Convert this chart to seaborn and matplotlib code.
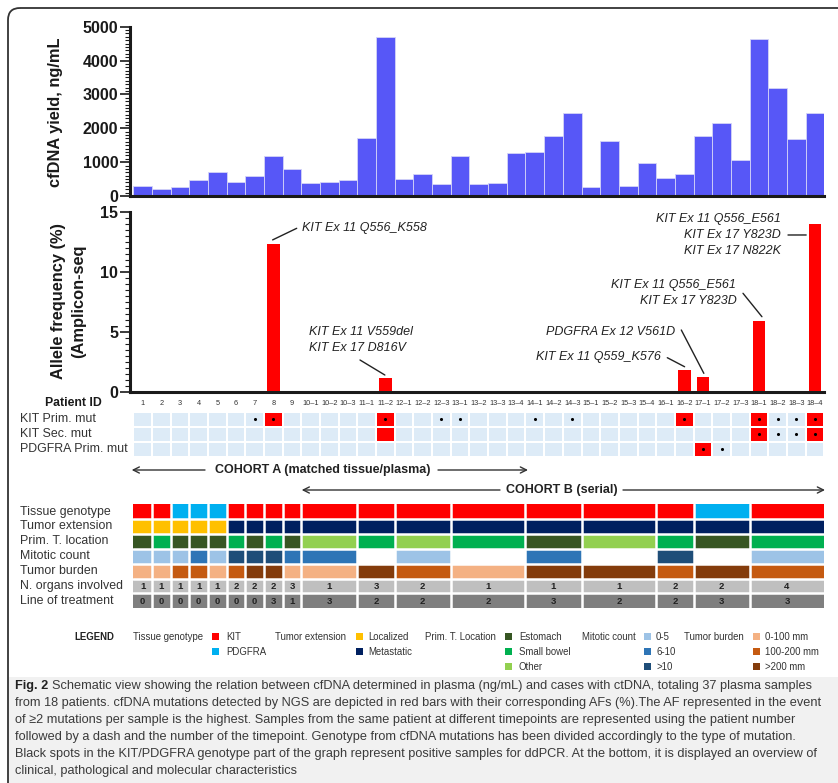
import numpy as np
import pandas as pd
import matplotlib
matplotlib.use("Agg")
import matplotlib.pyplot as plt
from matplotlib.colors import ListedColormap
from matplotlib.patches import Rectangle, FancyBboxPatch
from matplotlib.ticker import MultipleLocator
from matplotlib import font_manager
import seaborn as sns

# ---------------------------------------------------------------- data
sample_ids = ["1", "2", "3", "4", "5", "6", "7", "8", "9",
              "10–1", "10–2", "10–3", "11–1", "11–2", "12–1", "12–2", "12–3",
              "13–1", "13–2", "13–3", "13–4", "14–1", "14–2", "14–3",
              "15–1", "15–2", "15–3", "15–4", "16–1", "16–2",
              "17–1", "17–2", "17–3", "18–1", "18–2", "18–3", "18–4"]

cfdna_yield = [300, 220, 260, 460, 700, 420, 580, 1190, 810,
               380, 420, 460, 1700, 4690, 500, 650, 340,
               1190, 340, 380, 1270, 1310, 1770, 2450,
               260, 1610, 300, 960, 540, 650,
               1770, 2160, 1070, 4650, 3190, 1690, 2450]

af_samples = ["8", "11–2", "16–2", "17–1", "18–1", "18–4"]
af_values = [12.3, 1.1, 1.8, 1.25, 5.9, 14.0]

mut_rows = ["KIT Prim. mut", "KIT Sec. mut", "PDGFRA Prim. mut"]
kit_prim_ngs = ["8", "11–2", "16–2", "18–1", "18–4"]
kit_sec_ngs = ["11–2", "18–1", "18–4"]
pdgfra_prim_ngs = ["17–1"]
kit_prim_ddpcr = ["7", "8", "11–2", "12–3", "13–1", "14–1", "14–3",
                  "16–2", "18–1", "18–2", "18–3", "18–4"]
kit_sec_ddpcr = ["18–1", "18–2", "18–3", "18–4"]
pdgfra_prim_ddpcr = ["17–1", "17–2"]

samples_per_patient = [1, 1, 1, 1, 1, 1, 1, 1, 1, 3, 2, 3, 4, 3, 4, 2, 3, 4]

clin_rows = ["Tissue genotype", "Tumor extension", "Prim. T. location",
             "Mitotic count", "Tumor burden", "N. organs involved",
             "Line of treatment"]
tissue_genotype = ["KIT", "KIT", "PDGFRA", "PDGFRA", "PDGFRA", "KIT", "KIT",
                   "KIT", "KIT", "KIT", "KIT", "KIT", "KIT", "KIT", "KIT",
                   "KIT", "PDGFRA", "KIT"]
tumor_extension = ["Localized"] * 5 + ["Metastatic"] * 13
prim_location = ["Estomach", "Small bowel", "Estomach", "Estomach", "Estomach",
                 "Small bowel", "Estomach", "Small bowel", "Estomach", "Other",
                 "Small bowel", "Other", "Small bowel", "Estomach", "Other",
                 "Small bowel", "Estomach", "Small bowel"]
mitotic_count = ["0-5", "0-5", "0-5", "6-10", "0-5", ">10", ">10", ">10",
                 "6-10", "6-10", None, "0-5", None, "6-10", None, ">10",
                 None, "0-5"]
tumor_burden = ["0-100 mm", "0-100 mm", "100-200 mm", "100-200 mm", "0-100 mm",
                "100-200 mm", ">200 mm", ">200 mm", "0-100 mm", "0-100 mm",
                ">200 mm", "100-200 mm", "0-100 mm", ">200 mm", ">200 mm",
                "100-200 mm", ">200 mm", "100-200 mm"]
n_organs = [1, 1, 1, 1, 1, 2, 2, 2, 3, 1, 3, 2, 1, 1, 1, 2, 2, 4]
line_of_treatment = [0, 0, 0, 0, 0, 0, 0, 3, 1, 3, 2, 2, 2, 3, 2, 2, 3, 3]

category_colors = {
    "KIT": "#FF0000", "PDGFRA": "#00B0F0",
    "Localized": "#FFC000", "Metastatic": "#002060",
    "Estomach": "#375623", "Small bowel": "#00B050", "Other": "#92D050",
    "0-5": "#9DC3E6", "6-10": "#2E75B6", ">10": "#1F4E79",
    "0-100 mm": "#F4B183", "100-200 mm": "#C55A11", ">200 mm": "#843C0C",
    None: "#FFFFFF",
}
organs_color = "#BFBFBF"
treatment_color = "#7F7F7F"

legend_groups = [
    ("Tissue genotype", ["KIT", "PDGFRA"]),
    ("Tumor extension", ["Localized", "Metastatic"]),
    ("Prim. T. Location", ["Estomach", "Small bowel", "Other"]),
    ("Mitotic count", ["0-5", "6-10", ">10"]),
    ("Tumor burden", ["0-100 mm", "100-200 mm", ">200 mm"]),
]

annotations = [
    # text, sample, align
    ("KIT Ex 11 Q556_K558", "8", "left"),
    ("KIT Ex 11 V559del\nKIT Ex 17 D816V", "11–2", "left"),
    ("KIT Ex 11 Q556_E561\nKIT Ex 17 Y823D\nKIT Ex 17 N822K", "18–4", "right"),
    ("KIT Ex 11 Q556_E561\nKIT Ex 17 Y823D", "18–1", "right"),
    ("PDGFRA Ex 12 V561D", "17–1", "right"),
    ("KIT Ex 11 Q559_K576", "16–2", "right"),
]

caption_bold = "Fig. 2"
caption_lines = [
    "Schematic view showing the relation between cfDNA determined in plasma (ng/mL) and cases with ctDNA, totaling 37 plasma samples",
    "from 18 patients. cfDNA mutations detected by NGS are depicted in red bars with their corresponding AFs (%).The AF represented in the event",
    "of ≥2 mutations per sample is the highest. Samples from the same patient at different timepoints are represented using the patient number",
    "followed by a dash and the number of the timepoint. Genotype from cfDNA mutations has been divided accordingly to the type of mutation.",
    "Black spots in the KIT/PDGFRA genotype part of the graph represent positive samples for ddPCR. At the bottom, it is displayed an overview of",
    "clinical, pathological and molecular characteristics",
]

# ---------------------------------------------------------------- style
sns.set_theme(style="white")
plt.rcParams["font.family"] = ["Liberation Sans", "DejaVu Sans"]
INK = "#1a1a1a"


def installed(name):
    try:
        font_manager.findfont(font_manager.FontProperties(family=name),
                              fallback_to_default=False)
        return True
    except ValueError:
        return False


cap_family = next((f for f in ["Liberation Sans Narrow", "Liberation Sans"]
                   if installed(f)), "DejaVu Sans")

W, H = 838, 783
fig = plt.figure(figsize=(W / 100, H / 100), dpi=100)
fig.patch.set_facecolor("white")


def box(x0, y0, x1, y1):
    """Axes rectangle from pixel edges measured from the top-left corner."""
    return [x0 / W, 1 - y1 / H, (x1 - x0) / W, (y1 - y0) / H]


# page layer in pixel units (frame, labels, legend, caption)
page = fig.add_axes([0, 0, 1, 1])
page.set_xlim(0, W)
page.set_ylim(H, 0)
page.axis("off")
page.add_patch(Rectangle((8, 677), 840, 120, facecolor="#f1f1f1",
                         edgecolor="none"))
page.add_patch(FancyBboxPatch((8, 8), 900, 900,
                              boxstyle="round,pad=0,rounding_size=12",
                              fill=False, edgecolor="#333333", linewidth=1.3))

X0, X1 = 133.3, 824.3
SLOT = (X1 - X0) / len(sample_ids)
XLIM = (-0.5 - 3.3 / SLOT, len(sample_ids) - 0.5)


def style_value_axis(ax):
    ax.set_facecolor("none")
    for side in ("top", "right"):
        ax.spines[side].set_visible(False)
    for side in ("left", "bottom"):
        ax.spines[side].set_linewidth(2.2)
        ax.spines[side].set_color(INK)
    ax.tick_params(axis="y", which="major", left=True, length=7, width=1.2,
                   pad=1.5, labelsize=11.5, color=INK, labelcolor=INK)
    ax.tick_params(axis="y", which="minor", left=True, length=3.5, width=0.8,
                   color=INK)
    for lab in ax.get_yticklabels():
        lab.set_fontweight("bold")
    ax.set_xlabel("")
    ax.set_ylabel("")
    ax.set_xlim(*XLIM)


# ---------------------------------------------------------------- cfDNA yield
ax_top = fig.add_axes(box(130, 26.7, X1, 196))
yield_df = pd.DataFrame({"sample": sample_ids, "yield": cfdna_yield})
sns.barplot(data=yield_df, x="sample", y="yield", order=sample_ids,
            color="#5757F7", saturation=1, width=1.0, errorbar=None,
            edgecolor="#d4d4f7", linewidth=0.6, ax=ax_top)
ax_top.set_ylim(0, 5000)
ax_top.yaxis.set_major_locator(MultipleLocator(1000))
ax_top.yaxis.set_minor_locator(MultipleLocator(100))
ax_top.set_xticks([])
style_value_axis(ax_top)
page.text(55, 112, "cfDNA yield, ng/mL", rotation=90, ha="center",
          va="center", fontsize=11.8, fontweight="bold", color=INK)

# ---------------------------------------------------------------- allele frequency
ax_af = fig.add_axes(box(130, 211.7, X1, 391.7))
af_df = pd.DataFrame({"sample": af_samples, "af": af_values})
sns.barplot(data=af_df, x="sample", y="af", order=sample_ids,
            color="#FF0000", saturation=1, width=0.68, errorbar=None,
            linewidth=0, ax=ax_af)
ax_af.set_ylim(0, 15)
ax_af.yaxis.set_major_locator(MultipleLocator(5))
ax_af.yaxis.set_minor_locator(MultipleLocator(0.5))
style_value_axis(ax_af)
ax_af.set_xticks(range(len(sample_ids)))
ax_af.set_xticklabels(sample_ids)
ax_af.tick_params(axis="x", bottom=False, length=0, pad=6, labelsize=5.3,
                  labelcolor="#333333")
page.text(58, 301, "Allele frequency (%)", rotation=90, ha="center",
          va="center", fontsize=11.8, fontweight="bold", color=INK)
page.text(79, 301, "(Amplicon-seq", rotation=90, ha="center",
          va="center", fontsize=11.8, fontweight="bold", color=INK)
page.text(102, 403, "Patient ID", ha="right", va="center", fontsize=8.8,
          fontweight="bold", color=INK)

# text anchor (px), line end near text (px), line end near bar (data offsets)
annot_layout = [
    ((301.7, 228.3), (296.7, 228.3), (-0.04, 0.35)),
    ((309.3, 339.7), (360.0, 360.0), (-0.03, 0.29)),
    ((780.7, 235.0), (788.0, 235.0), (-0.47, -0.94)),
    ((736.3, 293.0), (743.0, 293.3), (0.16, 0.35)),
    ((674.7, 331.7), (681.3, 330.0), (0.05, 0.28)),
    ((660.7, 356.7), (667.3, 357.7), (0.02, 0.28)),
]
af_lookup = dict(zip(af_samples, af_values))
for (text, sample, align), (tpos, lpos, off) in zip(annotations, annot_layout):
    ax_af.text(tpos[0], tpos[1], text, ha=align, va="center", fontsize=9,
               style="italic", color="#222222", linespacing=1.45,
               transform=page.transData)
    idx = sample_ids.index(sample)
    ax_af.annotate("", xy=(idx + off[0], af_lookup[sample] + off[1]),
                   xycoords="data", xytext=lpos, textcoords=page.transData,
                   arrowprops=dict(arrowstyle="-", lw=1.0, color="#222222",
                                   shrinkA=0, shrinkB=0))

# ---------------------------------------------------------------- mutation grid
ax_mut = fig.add_axes(box(X0, 411.7, X1, 456.7))
ngs_sets = [kit_prim_ngs, kit_sec_ngs, pdgfra_prim_ngs]
ddpcr_sets = [kit_prim_ddpcr, kit_sec_ddpcr, pdgfra_prim_ddpcr]
mut_matrix = pd.DataFrame([[1 if s in hits else 0 for s in sample_ids]
                           for hits in ngs_sets],
                          index=mut_rows, columns=sample_ids)
sns.heatmap(mut_matrix, cmap=ListedColormap(["#DDEBF7", "#FF0000"]),
            vmin=0, vmax=1, cbar=False, linewidths=1.3, linecolor="white",
            xticklabels=False, yticklabels=False, ax=ax_mut)
for r, hits in enumerate(ddpcr_sets):
    xs = [sample_ids.index(s) + 0.5 for s in hits]
    ax_mut.scatter(xs, [r + 0.5] * len(xs), s=5, color="black", zorder=3,
                   linewidths=0)
for r, name in enumerate(mut_rows):
    page.text(20, 419.2 + 15 * r, name, ha="left", va="center", fontsize=8.9,
              color="#333333")

# ---------------------------------------------------------------- cohorts
arrow_kw = dict(arrowstyle="->", lw=1.0, color="#333333", shrinkA=0,
                shrinkB=0, mutation_scale=11)
page.annotate("", xy=(131.7, 470), xytext=(205, 470), arrowprops=arrow_kw)
page.annotate("", xy=(528, 470), xytext=(438, 470), arrowprops=arrow_kw)
page.text(322.8, 470, "COHORT A (matched tissue/plasma)", ha="center",
          va="center", fontsize=9, fontweight="bold", color="#222222")
page.annotate("", xy=(301.7, 490), xytext=(500, 490), arrowprops=arrow_kw)
page.annotate("", xy=(825, 490), xytext=(623, 490), arrowprops=arrow_kw)
page.text(561.5, 490, "COHORT B (serial)", ha="center", va="center",
          fontsize=9, fontweight="bold", color="#222222")

# ---------------------------------------------------------------- clinical grid
per_patient_colors = [
    [category_colors[v] for v in tissue_genotype],
    [category_colors[v] for v in tumor_extension],
    [category_colors[v] for v in prim_location],
    [category_colors[v] for v in mitotic_count],
    [category_colors[v] for v in tumor_burden],
    [organs_color] * len(n_organs),
    [treatment_color] * len(line_of_treatment),
]
palette = []
for row in per_patient_colors:
    for c in row:
        if c not in palette:
            palette.append(c)
codes = np.array([np.repeat([palette.index(c) for c in row],
                            samples_per_patient)
                  for row in per_patient_colors])
clin_df = pd.DataFrame(codes, index=clin_rows, columns=sample_ids)

ax_clin = fig.add_axes(box(X0, 504.3, X1, 608.3))
sns.heatmap(clin_df, cmap=ListedColormap(palette), vmin=-0.5,
            vmax=len(palette) - 0.5, cbar=False, xticklabels=False,
            yticklabels=False, ax=ax_clin)
bounds = np.cumsum(samples_per_patient)
starts = bounds - np.array(samples_per_patient)
for b in bounds[:-1]:
    ax_clin.axvline(b, color="white", lw=1.8)
for r in range(1, len(clin_rows)):
    ax_clin.axhline(r, color="white", lw=1.8)
for row, values in ((5, n_organs), (6, line_of_treatment)):
    for s, n, v in zip(starts, samples_per_patient, values):
        ax_clin.text(s + n / 2, row + 0.55, str(v), ha="center", va="center",
                     fontsize=6.8, fontweight="bold", color="#222222")
for r, name in enumerate(clin_rows):
    page.text(20, 511.5 + 14.85 * r, name, ha="left", va="center",
              fontsize=8.9, color="#333333")

# ---------------------------------------------------------------- legend
legend_rows_y = [636.7, 651.7, 666.7]
legend_x = [(132.7, 212.0, 226.7), (275.0, 355.5, 368.5),
            (424.7, 505.0, 518.8), (582.0, 644.0, 656.0),
            (684.0, 753.0, 764.5)]
page.text(74, legend_rows_y[0], "LEGEND", ha="left", va="center",
          fontsize=6.9, fontweight="bold", color="#222222")
for (title, items), (tx, sx, lx) in zip(legend_groups, legend_x):
    page.text(tx, legend_rows_y[0], title, ha="left", va="center",
              fontsize=6.9, color="#333333")
    for item, y in zip(items, legend_rows_y):
        page.add_patch(Rectangle((sx, y - 3.6), 7.3, 7.2,
                                 facecolor=category_colors[item],
                                 edgecolor="none"))
        page.text(lx, y, item, ha="left", va="center", fontsize=6.9,
                  color="#333333")

# ---------------------------------------------------------------- caption
cap_fams = [cap_family, "DejaVu Sans"]
renderer = fig.canvas.get_renderer()
probe_b = page.text(0, 0, caption_bold, fontsize=10, fontweight="bold",
                    family=cap_fams)
probe_r = page.text(0, 0, caption_lines[0], fontsize=10, family=cap_fams)
wb = probe_b.get_window_extent(renderer).width
wr = probe_r.get_window_extent(renderer).width
probe_b.remove()
probe_r.remove()
em10 = 10 * 100 / 72
cap_size = 10 * 803 / (wb + wr + 0.28 * em10)
scale = cap_size / 10
page.text(15, 686, caption_bold, ha="left", va="center", fontsize=cap_size,
          fontweight="bold", family=cap_fams, color="#222222")
page.text(15 + (wb + 0.28 * em10) * scale, 686, caption_lines[0], ha="left",
          va="center", fontsize=cap_size, family=cap_fams, color="#3a3a3a")
for k, line in enumerate(caption_lines[1:], start=1):
    page.text(15, 686 + 17 * k, line, ha="left", va="center",
              fontsize=cap_size, family=cap_fams, color="#3a3a3a")

fig.savefig("out.png", dpi=100)
